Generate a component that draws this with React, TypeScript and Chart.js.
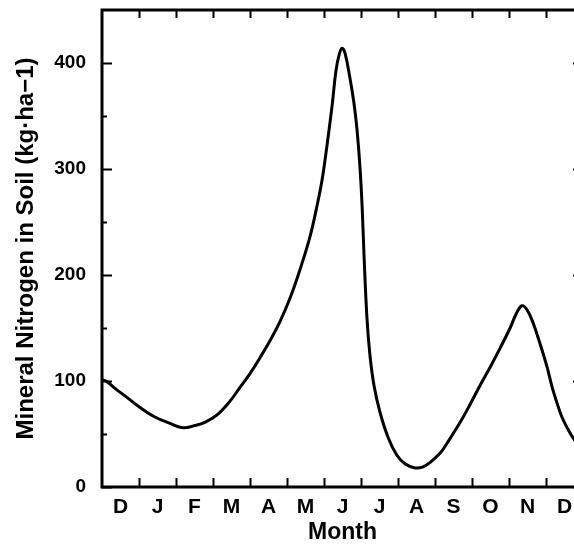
import React, { useEffect, useRef } from "react";
import { Chart, registerables } from "chart.js";

Chart.register(...registerables);

// Month labels (centred in each month interval) and month boundaries (tick marks)
const monthLabels = ["D", "J", "F", "M", "A", "M", "J", "J", "A", "S", "O", "N", "D"];
const monthCenters = [0.5, 1.5, 2.5, 3.5, 4.5, 5.5, 6.5, 7.5, 8.5, 9.5, 10.5, 11.5, 12.5];
const monthBounds = [1, 2, 3, 4, 5, 6, 7, 8, 9, 10, 11, 12];

// Y axis ticks
const yTickValues = [0, 100, 200, 300, 400];
const yMinorValues = [50, 150, 250, 350];

// Curve: position in months (from left edge) and mineral N (kg/ha)
const monthPos = [
  0.0, 0.11, 0.35, 0.62, 1.03, 1.43, 1.84, 2.19, 2.51, 2.78,
  3.11, 3.46, 3.73, 4.0, 4.27, 4.54, 4.81, 5.08, 5.35, 5.62,
  5.81, 5.95, 6.08, 6.22, 6.32, 6.41, 6.49, 6.57, 6.7, 6.81,
  6.89, 6.97, 7.03, 7.08, 7.16, 7.24, 7.35, 7.51, 7.73, 7.97,
  8.19, 8.46, 8.68, 8.86, 9.14, 9.32, 9.68, 9.95, 10.22, 10.49,
  10.76, 11.03, 11.19, 11.35, 11.49, 11.65, 11.84, 12.03, 12.16, 12.3,
  12.43, 12.57, 12.76, 13.0,
];
const nitrogen = [
  101, 100, 93, 86, 75, 66, 60, 56, 58, 61,
  68, 81, 94, 107, 122, 138, 156, 178, 205, 236,
  265, 290, 322, 360, 392, 408, 414, 409, 386, 362,
  338, 303, 265, 220, 160, 125, 96, 71, 47, 30,
  22, 18, 19, 23, 32, 41, 61, 78, 96, 113,
  131, 150, 163, 171, 167, 155, 135, 113, 95, 79,
  66, 56, 45, 35,
];

const FONT = "'Liberation Sans', Arial, Helvetica, sans-serif";

const framePlugin = {
  id: "frame",
  afterDatasetsDraw(chart: any) {
    const { ctx, chartArea: a, scales } = chart;
    const x = scales.x;
    const y = scales.y;
    ctx.save();
    ctx.strokeStyle = "#000";
    ctx.lineWidth = 3;
    ctx.strokeRect(a.left, a.top, a.right - a.left, a.bottom - a.top);
    ctx.lineWidth = 2;
    ctx.beginPath();
    for (const m of monthBounds) {
      const px = Math.round(x.getPixelForValue(m)) + 0.5;
      ctx.moveTo(px, a.bottom);
      ctx.lineTo(px, a.bottom - 9);
      ctx.moveTo(px, a.top);
      ctx.lineTo(px, a.top + 8);
    }
    for (const v of yTickValues) {
      const py = Math.round(y.getPixelForValue(v)) + 0.5;
      ctx.moveTo(a.left, py);
      ctx.lineTo(a.left + 10, py);
      ctx.moveTo(a.right, py);
      ctx.lineTo(a.right - 10, py);
    }
    for (const v of yMinorValues) {
      const py = Math.round(y.getPixelForValue(v)) + 0.5;
      ctx.moveTo(a.left, py);
      ctx.lineTo(a.left + 5, py);
      ctx.moveTo(a.right, py);
      ctx.lineTo(a.right - 5, py);
    }
    ctx.stroke();
    ctx.restore();
  },
};

export default function App() {
  const ref = useRef<HTMLCanvasElement | null>(null);

  useEffect(() => {
    if (!ref.current) return;
    const data = monthPos.map((m, i) => ({ x: m, y: nitrogen[i] }));
    const chart = new Chart(ref.current, {
      type: "line",
      data: {
        datasets: [
          {
            data,
            borderColor: "#000",
            borderWidth: 3,
            pointRadius: 0,
            fill: false,
            tension: 0.4,
          },
        ],
      },
      options: {
        responsive: false,
        animation: false,
        devicePixelRatio: 1,
        layout: { padding: { left: 0, top: 10, right: 17, bottom: 0 } },
        plugins: { legend: { display: false }, tooltip: { enabled: false } },
        scales: {
          x: {
            type: "linear",
            min: 0,
            max: 13,
            grid: { display: false, drawTicks: false },
            border: { display: false },
            afterBuildTicks: (scale: any) => {
              scale.ticks = monthCenters.map((v) => ({ value: v }));
            },
            afterFit: (scale: any) => {
              scale.height = 59;
              scale.paddingLeft = 0;
              scale.paddingRight = 0;
            },
            ticks: {
              padding: 8,
              autoSkip: false,
              maxRotation: 0,
              color: "#000",
              font: { family: FONT, size: 21, weight: "bold" },
              callback: (_v: any, i: number) => monthLabels[i],
            },
            title: {
              display: true,
              text: "Month",
              color: "#000",
              padding: 0,
              font: { family: FONT, size: 23, weight: "bold" },
            },
          },
          y: {
            type: "linear",
            min: 0,
            max: 450,
            grid: { display: false, drawTicks: false },
            border: { display: false },
            afterBuildTicks: (scale: any) => {
              scale.ticks = yTickValues.map((v) => ({ value: v }));
            },
            afterFit: (scale: any) => {
              scale.width = 102;
              scale.paddingTop = 0;
              scale.paddingBottom = 0;
            },
            ticks: {
              padding: 16,
              color: "#000",
              font: { family: FONT, size: 19, weight: "bold" },
            },
            title: {
              display: true,
              text: "Mineral Nitrogen in Soil (kg·ha−1)",
              color: "#000",
              padding: { top: 12, bottom: 0 },
              font: { family: FONT, size: 24, weight: "bold" },
            },
          },
        },
      },
      plugins: [framePlugin],
    });
    return () => chart.destroy();
  }, []);

  return (
    <div
      style={{
        position: "fixed",
        left: 0,
        top: 0,
        width: 574,
        height: 546,
        overflow: "hidden",
        background: "#fff",
      }}
    >
      <canvas ref={ref} width={600} height={546} style={{ display: "block" }} />
    </div>
  );
}
